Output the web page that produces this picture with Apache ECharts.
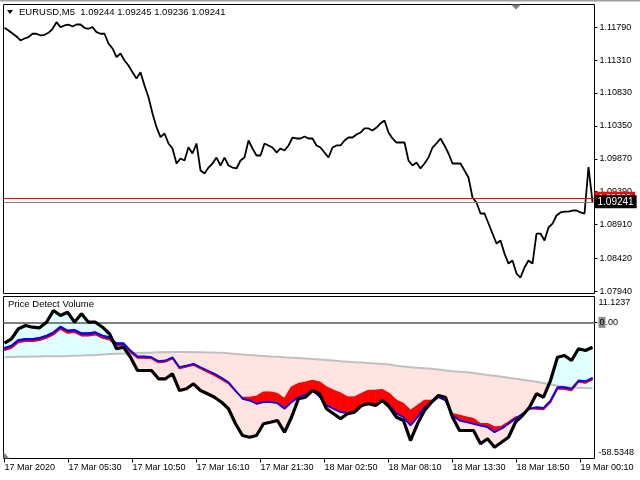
<!DOCTYPE html>
<html>
<head>
<meta charset="utf-8">
<script src="https://cdn.jsdelivr.net/npm/echarts@6/dist/echarts.min.js"></script>
<style>
html,body{margin:0;padding:0;background:#fff;}
#c{width:640px;height:480px;}
</style>
</head>
<body>
<div id="c"></div>
<script>
// ---- data ----
const symbolText = 'EURUSD,M5  1.09244 1.09245 1.09236 1.09241';
const indicatorName = 'Price Detect Volume';
const priceStep = 4; // bars between price samples (M5 bars)
const priceValues = [
1.11781,1.11742,1.11698,1.11654,1.11596,1.11625,1.11644,1.11694,1.11694,1.11669,
1.11679,1.11708,1.11767,1.11863,1.11790,1.11815,1.11829,1.11800,1.11829,1.11829,
1.11781,1.11767,1.11790,1.11717,1.11694,1.11694,1.11552,1.11479,1.11352,1.11406,
1.11304,1.11231,1.11133,1.11041,1.11133,1.10939,1.10768,1.10531,1.10331,1.10185,
1.10239,1.10093,1.10020,1.09801,1.09874,1.09845,1.10039,1.09947,1.10093,
1.09699,1.09655,1.09742,1.09801,1.09888,1.09772,1.09888,1.09772,1.09742,1.09728,
1.09845,1.09888,1.10137,1.10020,1.09918,1.09918,1.10093,1.10064,1.10034,1.09961,
1.10020,1.09991,1.10064,1.10180,1.10166,1.10166,1.10195,1.10166,1.10166,1.10064,
1.10034,1.09961,1.09888,1.10034,1.10064,1.10064,1.10137,1.10180,1.10180,1.10224,
1.10253,1.10312,1.10312,1.10282,1.10326,1.10385,1.10428,1.10253,1.10166,1.10107,
1.10107,1.10107,1.09845,1.09772,1.09815,1.09728,1.09801,1.09888,1.10034,1.10093,
1.10166,1.10064,1.09947,1.09801,1.09801,1.09801,1.09699,1.09597,1.09305,1.09232,
1.09071,1.09071,1.08925,1.08779,1.08633,1.08677,1.08487,1.08341,1.08385,1.08195,
1.08137,1.08283,1.08385,1.08341,1.08779,1.08779,1.08677,1.08867,1.08925,1.09042,
1.09086,1.09100,1.09100,1.09115,1.09115,1.09086,1.09071,1.09750,1.09241
];
const lastBid = 1.09241;
const askLevel = 1.09300;
const priceTicks = [1.07940,1.08420,1.08910,1.09390,1.09870,1.10350,1.10830,1.11310,1.11790];
const priceMin = 1.07904, priceMax = 1.12121;

const subStep = 7; // bars between indicator samples
const volMain = [
-8.96,-7.06,-2.76,-1.35,-2.08,-2.33,0.07,5.10,2.95,4.37,
0.07,3.69,0.07,0.07,-2.08,-4.91,-11.36,-10.68,-14.98,-20.70,
-20.70,-20.70,-24.26,-24.26,-22.11,-29.30,-28.57,-26.41,-29.30,
-30.71,-32.18,-34.33,-37.16,-43.61,-48.65,-49.38,-48.65,-43.61,-42.93,
-42.20,-47.23,-40.78,-32.86,-32.18,-29.30,-30.71,-37.16,-39.31,-41.46,
-39.31,-38.63,-35.75,-35.01,-35.75,-33.60,-36.48,-40.78,
-42.20,-50.80,-43.61,-37.90,-34.33,-31.45,-32.18,-40.78,-46.50,-46.50,
-46.50,-52.21,-50.06,-53.68,-51.53,-49.38,-42.93,-40.05,-36.48,-30.71,
-32.18,-25.00,-14.98,-14.25,-16.40,-11.36,-12.10,-10.68
];
const volBlue = [
-10.93,-9.95,-7.49,-7.06,-7.06,-6.63,-5.65,-4.23,-1.78,-3.50,
-3.19,-4.66,-4.66,-4.23,-5.65,-6.38,-8.96,-8.96,-12.10,-14.68,
-14.68,-14.98,-16.70,-16.40,-14.98,-19.28,-18.55,-17.81,-19.28,
-20.70,-22.11,-23.83,-25.73,-29.30,-32.86,-33.60,-35.01,-34.33,-34.33,
-34.76,-37.16,-34.33,-32.18,-31.02,-29.30,-31.88,-35.75,-37.16,-38.63,
-39.06,-38.20,-35.75,-35.01,-35.75,-33.29,-35.75,-39.31,
-40.78,-44.35,-40.78,-36.48,-34.33,-32.18,-33.60,-40.05,-42.20,-42.93,
-43.61,-44.35,-45.08,-47.23,-45.76,-43.61,-41.46,-39.31,-37.16,-36.48,
-36.73,-33.60,-27.88,-27.88,-28.56,-25.00,-25.30,-23.83
];
const volRed = [
-12.01,-11.02,-8.57,-8.14,-8.14,-7.71,-6.72,-5.30,-2.85,-4.57,
-4.27,-5.73,-5.73,-5.30,-6.72,-7.45,-10.03,-10.03,-12.96,-15.32,
-15.32,-15.54,-17.26,-16.95,-15.54,-19.84,-19.10,-18.37,-19.84,
-21.34,-22.76,-24.48,-26.29,-29.73,-32.31,-32.31,-31.88,-30.03,-30.03,
-30.71,-32.86,-27.88,-26.41,-25.73,-25.00,-25.73,-27.88,-29.30,-30.46,
-32.18,-32.18,-30.71,-29.30,-29.30,-28.99,-30.71,-33.60,
-35.01,-37.90,-35.75,-33.60,-33.60,-31.88,-33.29,-39.31,-40.05,-40.78,
-41.46,-43.61,-43.61,-45.08,-44.78,-42.93,-40.78,-40.05,-37.04,-37.25,
-37.47,-34.46,-28.65,-28.65,-29.30,-25.64,-26.07,-24.57
];
const volSlow = [
-14.98,-14.89,-14.80,-14.76,-14.68,-14.68,-14.59,-14.55,-14.55,-14.46,
-14.33,-14.25,-14.12,-13.99,-13.82,-13.64,-13.51,-13.39,-13.26,-13.13,
-13.04,-12.96,-12.87,-12.83,-12.78,-12.78,-12.78,-12.83,-12.83,
-12.91,-13.00,-13.08,-13.30,-13.56,-13.82,-14.03,-14.25,-14.46,-14.68,
-14.80,-15.02,-15.19,-15.36,-15.54,-15.75,-15.92,-16.14,-16.40,-16.70,
-16.91,-17.13,-17.26,-17.47,-17.69,-17.90,-18.12,-18.63,
-18.98,-19.28,-19.53,-19.75,-19.96,-20.27,-20.70,-21.04,-21.25,-21.43,
-21.77,-22.20,-22.63,-22.98,-23.36,-23.83,-24.26,-24.69,-25.12,-25.56,
-26.07,-26.72,-27.27,-27.70,-28.01,-28.13,-28.26,-28.31
];
const subMax = 11.1237, subMin = -58.5348, subLevel = 0;
const subTicks = [11.1237, 0, -58.5348];

const timeTickBars = [0,64,128,192,256,320,384,448,512,576];
const timeTickLabels = ['17 Mar 2020','17 Mar 05:30','17 Mar 10:50','17 Mar 16:10','17 Mar 21:30',
  '18 Mar 02:50','18 Mar 08:10','18 Mar 13:30','18 Mar 18:50','19 Mar 00:10'];

// ---- chart ----
const FONT = 'Liberation Sans';
const chart = echarts.init(document.getElementById('c'), null, {renderer: 'canvas'});

const pricePairs = priceValues.map((v, i) => [i * priceStep, v]);
const pairs = arr => arr.map((v, i) => [i * subStep, v]);

function band(a, b, colUp, colDown, z) {
  const data = [];
  for (let i = 0; i < a.length - 1; i++) {
    data.push([i * subStep, a[i], b[i], (i + 1) * subStep, a[i + 1], b[i + 1]]);
  }
  return {
    type: 'custom', xAxisIndex: 1, yAxisIndex: 1, z: z, silent: true, clip: true,
    encode: {x: [0, 3], y: [1, 2, 4, 5]},
    renderItem: function (params, api) {
      const x0 = api.value(0), a0 = api.value(1), b0 = api.value(2);
      const x1 = api.value(3), a1 = api.value(4), b1 = api.value(5);
      const d0 = a0 - b0, d1 = a1 - b1;
      const P = (x, y) => api.coord([x, y]);
      const polys = [];
      if (d0 * d1 < 0) {
        const t = d0 / (d0 - d1);
        const xc = x0 + t * (x1 - x0), yc = a0 + t * (a1 - a0);
        polys.push({p: [P(x0, a0), P(xc, yc), P(x0, b0)], c: d0 > 0 ? colUp : colDown});
        polys.push({p: [P(xc, yc), P(x1, a1), P(x1, b1)], c: d1 > 0 ? colUp : colDown});
      } else {
        polys.push({p: [P(x0, a0), P(x1, a1), P(x1, b1), P(x0, b0)], c: (d0 + d1) >= 0 ? colUp : colDown});
      }
      return {type: 'group', children: polys.map(q => ({
        type: 'polygon', shape: {points: q.p},
        style: {fill: q.c, stroke: q.c, lineWidth: 0.6}
      }))};
    },
    data: data
  };
}

const xCommon = {type: 'value', min: -1, max: 590, splitLine: {show: false}};

const option = {
  animation: false,
  backgroundColor: '#fff',
  textStyle: {fontFamily: FONT},
  grid: [
    {left: 3.5, top: 4.5, width: 591, height: 289, show: true, borderColor: '#000', borderWidth: 1, backgroundColor: 'transparent'},
    {left: 3.5, top: 296.5, width: 591, height: 162, show: true, borderColor: '#000', borderWidth: 1, backgroundColor: 'transparent'}
  ],
  xAxis: [
    Object.assign({gridIndex: 0, show: false, axisLine: {show: false, onZero: false}}, xCommon),
    Object.assign({gridIndex: 1,
      axisLine: {show: false, onZero: false},
      axisTick: {show: true, length: 4, customValues: timeTickBars, lineStyle: {color: '#000'}},
      axisLabel: {show: true, customValues: timeTickBars, align: 'left', margin: 5,
        color: '#000', fontFamily: FONT, fontSize: 9,
        formatter: v => timeTickLabels[timeTickBars.indexOf(Math.round(v))] || ''}
    }, xCommon)
  ],
  yAxis: [
    {type: 'value', gridIndex: 0, position: 'right', min: priceMin, max: priceMax, scale: true,
      splitLine: {show: false}, axisLine: {show: false, onZero: false},
      axisTick: {show: true, length: 3, customValues: priceTicks, lineStyle: {color: '#000'}},
      axisLabel: {customValues: priceTicks, margin: 5, color: '#000', fontFamily: FONT, fontSize: 9,
        formatter: v => v.toFixed(5)}
    },
    {type: 'value', gridIndex: 1, position: 'right', min: subMin, max: subMax,
      splitLine: {show: false}, axisLine: {show: false, onZero: false},
      axisTick: {show: true, length: 3, customValues: [0], lineStyle: {color: '#000'}},
      axisLabel: {customValues: subTicks, margin: 4, color: '#000', fontFamily: FONT, fontSize: 9,
        formatter: v => {
          if (Math.abs(v) < 1e-9) return '{g|0}{n|.00}';
          if (v > 0) return '{t|' + v.toFixed(4) + '}';
          return '{b|' + v.toFixed(4) + '}';
        },
        rich: {
          g: {backgroundColor: '#8c8c8c', color: '#000', fontSize: 9, fontFamily: FONT, padding: [1, 1, 1, 1]},
          n: {color: '#000', fontSize: 9, fontFamily: FONT},
          t: {color: '#000', fontSize: 9, fontFamily: FONT, padding: [12, 0, 0, 0]},
          b: {color: '#000', fontSize: 9, fontFamily: FONT, padding: [0, 0, 12, 0]}
        }
      }
    }
  ],
  series: [
    {type: 'line', xAxisIndex: 0, yAxisIndex: 0, data: pricePairs, showSymbol: false, z: 5,
      lineStyle: {color: '#000', width: 1.8}, silent: true,
      markLine: {silent: true, symbol: ['none', 'none'], z: 20, animation: false, precision: 5,
        data: [
          {yAxis: askLevel, lineStyle: {color: '#ff0000', width: 1, type: 'solid'},
            label: {show: true, position: 'end', distance: 0, formatter: askLevel.toFixed(5),
              backgroundColor: '#ff0000', color: '#fff', fontFamily: FONT, fontSize: 9, padding: [2, 4, 1, 4]}},
          {yAxis: lastBid, lineStyle: {color: '#808080', width: 1, type: 'solid'},
            label: {show: true, position: 'end', distance: 0, formatter: lastBid.toFixed(5),
              backgroundColor: '#000', color: '#fff', fontFamily: FONT, fontSize: 10, padding: [2, 3, 1, 3]}}
        ]}
    },
    band(volMain, volSlow, '#e0ffff', '#ffe4e1', 1),
    {type: 'line', xAxisIndex: 1, yAxisIndex: 1, data: pairs(volSlow), showSymbol: false, z: 2, silent: true,
      lineStyle: {color: '#c0c0c0', width: 2},
      markLine: {silent: true, symbol: ['none', 'none'], label: {show: false}, z: 2, precision: 5,
        data: [{yAxis: subLevel, lineStyle: {color: '#808080', width: 2, type: 'solid'}}]}
    },
    band(volRed, volBlue, '#ff0000', '#0000ff', 3),
    {type: 'line', xAxisIndex: 1, yAxisIndex: 1, data: pairs(volRed), showSymbol: false, z: 4, silent: true,
      lineStyle: {color: '#ff0000', width: 1.5}},
    {type: 'line', xAxisIndex: 1, yAxisIndex: 1, data: pairs(volBlue), showSymbol: false, z: 5, silent: true,
      lineStyle: {color: '#0000ff', width: 1.8}},
    {type: 'line', xAxisIndex: 1, yAxisIndex: 1, data: pairs(volMain), showSymbol: false, z: 6, silent: true,
      lineStyle: {color: '#000', width: 3.2}}
  ],
  graphic: [
    {type: 'rect', shape: {x: 0, y: 0, width: 640, height: 1.5}, style: {fill: '#a0a0a0'}, silent: true},
    {type: 'polygon', shape: {points: [[7, 10], [13, 10], [10, 14]]}, style: {fill: '#000'}, silent: true},
    {type: 'text', left: 19, top: 7, style: {text: symbolText, fill: '#000', font: '9.5px "Liberation Sans"'}, silent: true},
    {type: 'text', left: 8, top: 299, style: {text: indicatorName, fill: '#000', font: '9.5px "Liberation Sans"'}, silent: true, z: 100},
    {type: 'polygon', shape: {points: [[511, 4.5], [521, 4.5], [516, 9.5]]}, style: {fill: '#808080'}, silent: true},
    {type: 'polygon', shape: {points: [[3.5, 452], [3.5, 458.5], [9.5, 458.5]]}, style: {fill: '#808080'}, silent: true}
  ]
};
chart.setOption(option);
</script>
</body>
</html>
